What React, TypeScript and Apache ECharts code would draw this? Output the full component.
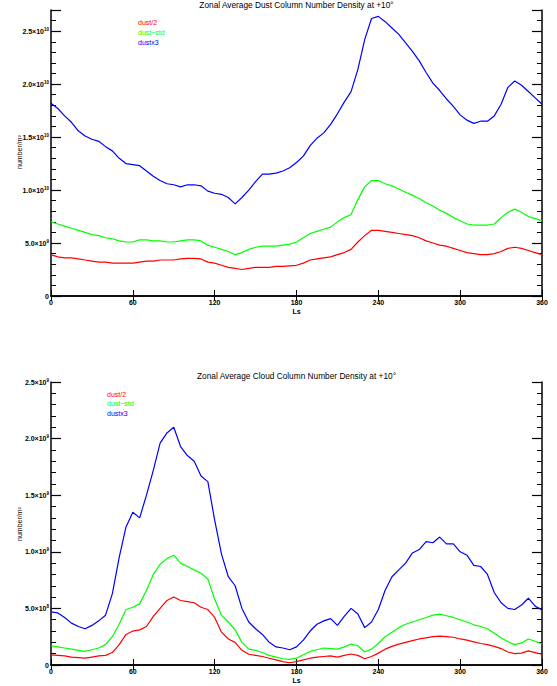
import React, { useEffect, useRef } from "react";
import * as echarts from "echarts";

// Solar longitude samples (degrees)
const LS = [
  0, 5, 10, 15, 20, 25, 30, 35, 40, 45, 50, 55, 60, 65, 70, 75, 80, 85, 90, 95,
  100, 105, 110, 115, 120, 125, 130, 135, 140, 145, 150, 155, 160, 165, 170, 175,
  180, 185, 190, 195, 200, 205, 210, 215, 220, 225, 230, 235, 240, 245, 250, 255,
  260, 265, 270, 275, 280, 285, 290, 295, 300, 305, 310, 315, 320, 325, 330, 335,
  340, 345, 350, 355, 360,
];

// Dust column number density, in units of 1e10 m^-2
const DUST_SCALE = 1e10;
const DUST_HALF = [
  0.39, 0.37, 0.36, 0.36, 0.35, 0.34, 0.33, 0.32, 0.32, 0.31, 0.31, 0.31, 0.31, 0.32, 0.33, 0.33, 0.34, 0.34, 0.34, 0.35,
  0.355, 0.355, 0.35, 0.32, 0.31, 0.29, 0.27, 0.26, 0.25, 0.26, 0.27, 0.27, 0.27, 0.28, 0.28, 0.285,
  0.29, 0.31, 0.34, 0.35, 0.36, 0.37, 0.39, 0.41, 0.44, 0.51, 0.57, 0.62, 0.62, 0.61, 0.6, 0.59,
  0.58, 0.57, 0.55, 0.52, 0.5, 0.48, 0.47, 0.45, 0.43, 0.41, 0.4, 0.39, 0.39, 0.4, 0.42, 0.45,
  0.46, 0.45, 0.43, 0.41, 0.39,
];
const DUST_STD = [
  0.7, 0.68, 0.66, 0.64, 0.62, 0.6, 0.58, 0.57, 0.55, 0.54, 0.52, 0.51, 0.51, 0.53, 0.53, 0.52, 0.52, 0.51, 0.51, 0.52,
  0.53, 0.53, 0.52, 0.48, 0.46, 0.44, 0.42, 0.39, 0.41, 0.44, 0.46, 0.47, 0.47, 0.47, 0.48, 0.49,
  0.51, 0.55, 0.59, 0.61, 0.63, 0.65, 0.7, 0.74, 0.77, 0.91, 1.03, 1.09, 1.09, 1.06, 1.04, 1.01,
  0.98, 0.95, 0.92, 0.88, 0.85, 0.81, 0.78, 0.74, 0.71, 0.68, 0.67, 0.67, 0.67, 0.68, 0.74, 0.79,
  0.82, 0.79, 0.75, 0.73, 0.71,
];
const DUST_X3 = [
  1.82, 1.77, 1.7, 1.64, 1.56, 1.51, 1.48, 1.46, 1.41, 1.37, 1.3, 1.25, 1.24, 1.23, 1.18, 1.13, 1.09, 1.06, 1.05, 1.03,
  1.05, 1.05, 1.04, 0.99, 0.97, 0.96, 0.93, 0.87, 0.93, 1.0, 1.08, 1.15, 1.15, 1.16, 1.18, 1.21,
  1.26, 1.32, 1.42, 1.49, 1.54, 1.62, 1.72, 1.83, 1.93, 2.14, 2.42, 2.62, 2.64, 2.59, 2.53, 2.47,
  2.39, 2.31, 2.22, 2.11, 2.01, 1.94, 1.86, 1.79, 1.71, 1.66, 1.63, 1.65, 1.65, 1.7, 1.81, 1.97,
  2.03, 1.99, 1.93, 1.87, 1.81,
];

// Cloud column number density, in units of 1e8 m^-2
const CLOUD_SCALE = 1e8;
const CLOUD_HALF = [
  0.9, 0.85, 0.8, 0.7, 0.65, 0.6, 0.7, 0.8, 0.85, 1.1, 1.8, 2.7, 3.0, 3.1, 3.4, 4.3, 5.0, 5.7, 6.0, 5.7,
  5.6, 5.5, 5.1, 4.9, 4.2, 2.9, 2.3, 2.0, 1.3, 0.95, 0.85, 0.75, 0.6, 0.45, 0.3, 0.2,
  0.3, 0.45, 0.6, 0.7, 0.75, 0.8, 0.7, 0.85, 0.97, 0.85, 0.55, 0.75, 1.05, 1.4, 1.65, 1.85,
  2.0, 2.15, 2.3, 2.4, 2.5, 2.55, 2.5, 2.45, 2.3, 2.2, 2.05, 1.9, 1.8, 1.65, 1.45, 1.15,
  1.0, 1.05, 1.25, 1.1, 0.95,
];
const CLOUD_STD = [
  1.7, 1.6, 1.5, 1.4, 1.3, 1.2, 1.35, 1.5, 1.8, 2.5, 3.6, 4.9, 5.1, 5.4, 6.6, 8.0, 8.9, 9.4, 9.7, 9.0,
  8.7, 8.4, 8.1, 7.6, 5.8, 4.4, 3.8, 3.1, 2.0, 1.4, 1.3, 1.1, 0.85, 0.7, 0.55, 0.5,
  0.6, 0.9, 1.2, 1.35, 1.5, 1.45, 1.4, 1.6, 1.85, 1.7, 1.15, 1.4, 1.9, 2.5, 2.9, 3.3,
  3.6, 3.8, 4.0, 4.2, 4.4, 4.5, 4.35, 4.2, 4.0, 3.8, 3.55, 3.4, 3.2, 2.8, 2.4, 2.05,
  1.8, 1.95, 2.3, 2.1, 1.85,
];
const CLOUD_X3 = [
  4.7, 4.6, 4.2, 3.7, 3.4, 3.2, 3.5, 3.9, 4.4, 6.3, 9.5, 12.2, 13.5, 13.0, 15.0, 17.2, 19.6, 20.5, 21.0, 19.3,
  18.5, 18.0, 16.7, 16.2, 12.8, 9.8, 7.8, 7.0, 5.0, 3.8, 3.2, 2.7, 2.0, 1.6, 1.5, 1.35,
  1.6, 2.2, 3.0, 3.6, 3.9, 4.1, 3.5, 4.3, 5.0, 4.5, 3.3, 3.8, 4.9, 6.6, 7.8, 8.4,
  9.0, 9.9, 10.2, 10.9, 10.8, 11.3, 10.7, 10.7, 10.0, 9.7, 8.8, 8.7, 8.0, 6.4, 5.5, 5.0,
  4.9, 5.3, 5.9, 5.2, 4.85,
];

const SERIES_NAMES = ["dust/2", "dust~std", "dustx3"];
const SERIES_COLORS = ["#ff0000", "#00ff00", "#0000ff"];
const TITLES = [
  "Zonal Average Dust Column Number Density at +10°",
  "Zonal Average Cloud Column Number Density at +10°",
];
const X_TICK_STEP = 60;
const DUST_Y_MAX = 2.7e10;
const DUST_Y_MAJOR = 5e9;
const DUST_Y_MINOR = 1e9;
const CLOUD_Y_MAX = 2.5e9;
const CLOUD_Y_MAJOR = 5e8;
const CLOUD_Y_MINOR = 1e8;

const FONT = "'Liberation Sans', Arial, Helvetica, sans-serif";

function sciLabel(v: number, major: number): string {
  const k = v / major;
  if (Math.abs(k - Math.round(k)) > 1e-6) return "";
  if (Math.abs(v) < 1e-3) return "{m|0}";
  const e = Math.floor(Math.log10(v) + 1e-9);
  const m = v / Math.pow(10, e);
  return `{m|${m.toFixed(1)}×10}{e|${e}}`;
}

const GRIDS = [
  { left: 51, top: 10, width: 491, height: 286 },
  { left: 51, top: 382, width: 491, height: 283 },
];

export default function App() {
  const ref = useRef<HTMLDivElement>(null);
  useEffect(() => {
    if (!ref.current) return;
    const chart = echarts.init(ref.current, undefined, { renderer: "svg" });
    const axisLine = { show: true, lineStyle: { color: "#000", width: 1.5 } };
    const xAxes: any[] = [];
    const yAxes: any[] = [];
    const cfg = [
      { max: DUST_Y_MAX, major: DUST_Y_MAJOR, minor: DUST_Y_MINOR },
      { max: CLOUD_Y_MAX, major: CLOUD_Y_MAJOR, minor: CLOUD_Y_MINOR },
    ];
    GRIDS.forEach((_, g) => {
      const base = {
        type: "value",
        gridIndex: g,
        min: 0,
        max: 360,
        interval: X_TICK_STEP,
        axisLine,
        splitLine: { show: false },
      };
      xAxes.push({
        ...base,
        position: "bottom",
        axisTick: { show: true, inside: true, length: 6, lineStyle: { color: "#000", width: 1 } },
        axisLabel: { show: true, color: "#000", fontSize: 7, fontWeight: "bold", fontFamily: FONT, margin: 3 },
        name: "Ls",
        nameLocation: "middle",
        nameGap: 12,
        nameTextStyle: { color: "#000", fontSize: 7, fontWeight: "bold", fontFamily: FONT },
      });
      xAxes.push({
        ...base,
        position: "top",
        axisTick: { show: true, inside: true, length: 5, lineStyle: { color: "#000", width: 1 } },
        axisLabel: { show: false },
      });
      const c = cfg[g];
      const yBase = {
        type: "value",
        gridIndex: g,
        min: 0,
        max: c.max,
        splitLine: { show: false },
      };
      ["left", "right"].forEach((pos) => {
        yAxes.push({
          ...yBase,
          position: pos,
          interval: c.major,
          axisLine,
          axisTick: { show: true, inside: true, length: 10, lineStyle: { color: "#000", width: 1.2 } },
          axisLabel:
            pos === "left"
              ? {
                  show: true,
                  margin: 2,
                  showMaxLabel: true,
                  formatter: (v: number) => sciLabel(v, c.major),
                  rich: {
                    m: { fontSize: 7, fontWeight: "bold", fontFamily: FONT, color: "#000", lineHeight: 9 },
                    e: { fontSize: 4.5, fontWeight: "bold", fontFamily: FONT, color: "#000", verticalAlign: "top", lineHeight: 9, padding: [0, 0, 3, 0] },
                  },
                }
              : { show: false },
        });
        yAxes.push({
          ...yBase,
          position: pos,
          interval: c.minor,
          axisLine: { show: false },
          axisTick: { show: true, inside: true, length: 5, lineStyle: { color: "#000", width: 1 } },
          axisLabel: { show: false },
        });
      });
    });

    const groups = [
      { data: [DUST_HALF, DUST_STD, DUST_X3], scale: DUST_SCALE },
      { data: [CLOUD_HALF, CLOUD_STD, CLOUD_X3], scale: CLOUD_SCALE },
    ];
    const series: any[] = [];
    groups.forEach((grp, g) => {
      grp.data.forEach((arr, i) => {
        series.push({
          type: "line",
          name: SERIES_NAMES[i],
          xAxisIndex: g * 2,
          yAxisIndex: g * 4,
          data: LS.map((x, j) => [x, arr[j] * grp.scale]),
          showSymbol: false,
          symbol: "none",
          lineStyle: { color: SERIES_COLORS[i], width: 1.2 },
          itemStyle: { color: SERIES_COLORS[i] },
          z: 3 + i,
        });
      });
    });

    const legendPos = [
      { x: 138, y: 22.7 },
      { x: 107, y: 394 },
    ];
    const graphics: any[] = [];
    legendPos.forEach((p) => {
      SERIES_NAMES.forEach((n, i) => {
        graphics.push({
          type: "text",
          x: p.x,
          y: p.y + i * 9.8,
          style: { text: n, fill: SERIES_COLORS[i], fontSize: 7, fontFamily: FONT, verticalAlign: "middle", align: "left" },
        });
      });
    });
    const titleY = [4.5, 375.5];
    TITLES.forEach((t, g) => {
      graphics.push({
        type: "text",
        x: 296.5,
        y: titleY[g],
        style: { text: t, fill: "#000", fontSize: 8.3, fontFamily: FONT, align: "center", verticalAlign: "middle" },
      });
    });
    const nameY = [152, 524];
    nameY.forEach((y) => {
      graphics.push({
        type: "text",
        x: 19,
        y,
        rotation: Math.PI / 2,
        style: { text: "number/m²", fill: "#000", fontSize: 7, fontFamily: FONT, align: "center", verticalAlign: "middle" },
      });
    });

    chart.setOption({
      animation: false,
      backgroundColor: "#fff",
      grid: GRIDS.map((g) => ({ ...g, containLabel: false })),
      xAxis: xAxes,
      yAxis: yAxes,
      series,
      graphic: graphics,
    });
    return () => chart.dispose();
  }, []);
  return (
    <div
      ref={ref}
      style={{ position: "fixed", left: 0, top: 0, width: 557, height: 686, background: "#fff" }}
    />
  );
}
